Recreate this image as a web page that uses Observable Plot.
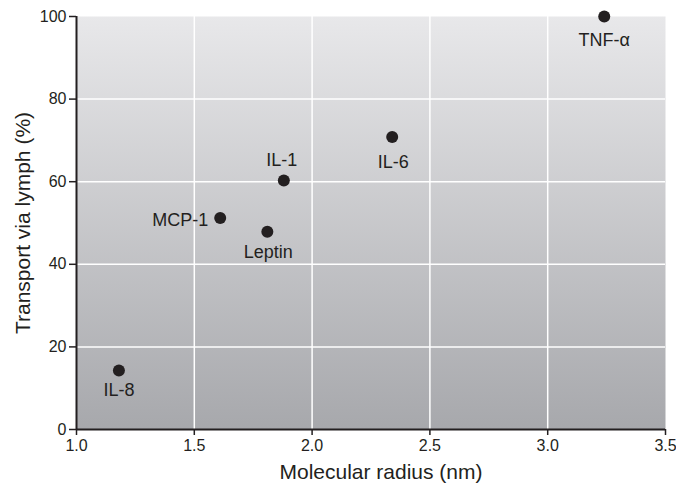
<!DOCTYPE html>
<html><head><meta charset="utf-8">
<script src="https://cdn.jsdelivr.net/npm/d3@7"></script>
<script src="https://cdn.jsdelivr.net/npm/@observablehq/plot@0.6"></script>
<style>
body{margin:0;background:#fff;font-family:"Liberation Sans",Arial,sans-serif;}
</style>
</head><body><div id="chart"></div>
<script>
const names = ["TNF-α", "IL-6", "IL-1", "MCP-1", "Leptin", "IL-8"];
const radius = [3.24, 2.34, 1.88, 1.61, 1.81, 1.18];
const transport = [100, 70.8, 60.3, 51.2, 47.9, 14.3];
const xTicks = [1.0, 1.5, 2.0, 2.5, 3.0, 3.5];
const yTicks = [0, 20, 40, 60, 80, 100];
const xLabel = "Molecular radius (nm)";
const yLabel = "Transport via lymph (%)";

const data = names.map((n, i) => ({name: n, x: radius[i], y: transport[i]}));
const pick = n => data.filter(d => d.name === n);
const ink = "#231f20";
const lbl = (n, o) => Plot.text(pick(n), {x: "x", y: "y", text: "name", fontSize: 18, fill: ink, ...o});

const chart = Plot.plot({
  width: 676, height: 483,
  marginLeft: 76, marginRight: 11, marginTop: 16, marginBottom: 54,
  style: {fontFamily: "'Liberation Sans', Arial, sans-serif", color: ink, background: "#fff"},
  x: {domain: [1, 3.5]},
  y: {domain: [0, 100]},
  marks: [
    Plot.frame({fill: "url(#bggrad)", stroke: "none"}),
    Plot.gridX(xTicks.filter(d => d > 1 && d < 3.5), {stroke: "#fff", strokeOpacity: 1, strokeWidth: 1.5}),
    Plot.gridY(yTicks.filter(d => d > 0 && d < 100), {stroke: "#fff", strokeOpacity: 1, strokeWidth: 1.5}),
    Plot.axisX({ticks: xTicks, text: null, label: null, tickSize: 6, strokeWidth: 1.5, stroke: ink}),
    Plot.axisY({ticks: yTicks, text: null, label: yLabel, labelAnchor: "center", labelArrow: "none", labelOffset: 61, fontSize: 21, tickSize: 7, strokeWidth: 1.5, stroke: ink, fill: ink}),
    Plot.text(xTicks, {x: d => d, frameAnchor: "bottom", lineAnchor: "top", dy: 10, text: d3.format(".1f"), fontSize: 16, fill: ink}),
    Plot.text(yTicks, {y: d => d, frameAnchor: "left", textAnchor: "end", dx: -10, text: d => String(d), fontSize: 16, fill: ink}),
    Plot.ruleX([1], {stroke: ink, strokeWidth: 2}),
    Plot.ruleY([0], {stroke: ink, strokeWidth: 2}),
    Plot.text([xLabel], {frameAnchor: "bottom", lineAnchor: "middle", dy: 43, dx: 10, fontSize: 21, fill: ink}),
    Plot.dot(data, {x: "x", y: "y", r: 6, fill: ink, stroke: "none", clip: false}),
    lbl("TNF-α", {dy: 24}),
    lbl("IL-6", {dy: 25, dx: 1}),
    lbl("IL-1", {dy: -20, dx: -2}),
    lbl("MCP-1", {dx: -12, dy: 2, textAnchor: "end"}),
    lbl("Leptin", {dy: 21, dx: 1}),
    lbl("IL-8", {dy: 20})
  ]
});

const svg = d3.select(chart);
const defs = svg.insert("defs", ":first-child");
const g = defs.append("linearGradient").attr("id", "bggrad").attr("x1", 0).attr("y1", 0).attr("x2", 0).attr("y2", 1);
g.append("stop").attr("offset", "0%").attr("stop-color", "#e8e8ea");
g.append("stop").attr("offset", "100%").attr("stop-color", "#a7a8ac");
document.getElementById("chart").appendChild(chart);
</script></body></html>
